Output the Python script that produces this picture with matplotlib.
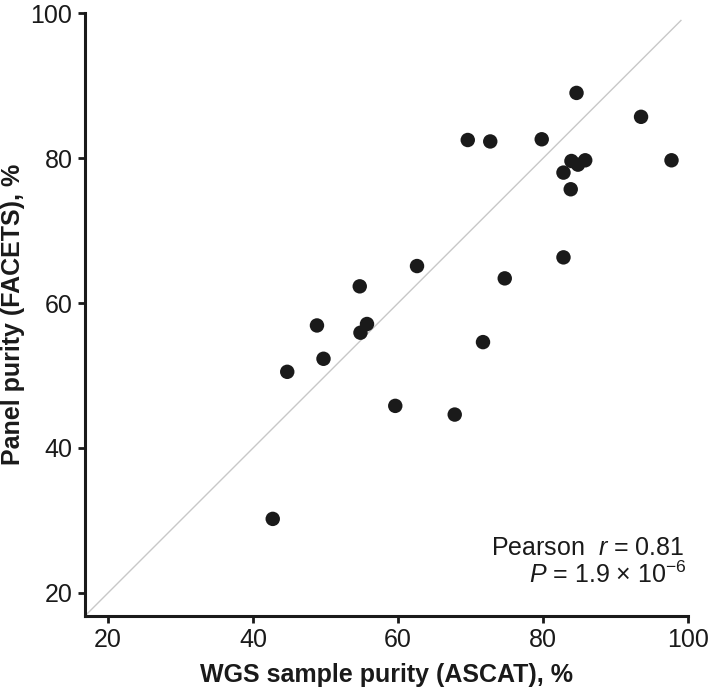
import matplotlib
matplotlib.use('Agg')
import matplotlib.pyplot as plt

plt.rcParams['font.family'] = ['Liberation Sans', 'DejaVu Sans']
plt.rcParams['mathtext.fontset'] = 'custom'
plt.rcParams['mathtext.rm'] = 'Liberation Sans'
plt.rcParams['mathtext.it'] = 'Liberation Sans:italic'

# WGS (ASCAT) purity vs panel (FACETS) purity, %
wgs_purity = [84.6, 93.5, 69.6, 72.7, 79.8, 83.9, 85.8, 84.8, 82.8, 97.7,
              83.8, 82.8, 62.6, 74.7, 54.7, 48.8, 55.7, 54.8, 71.7, 49.7,
              44.7, 59.6, 67.8, 42.7]
panel_purity = [89.0, 85.7, 82.5, 82.3, 82.6, 79.6, 79.7, 79.1, 78.0, 79.7,
                75.7, 66.3, 65.1, 63.4, 62.3, 56.9, 57.1, 55.9, 54.6, 52.3,
                50.5, 45.8, 44.6, 30.2]
ticks = [20, 40, 60, 80, 100]


def main():
    fig = plt.figure(figsize=(7.08, 6.96), dpi=100)
    ax = fig.add_axes([0.120, 0.115, 0.852, 0.866])

    ax.plot([16.8, 99], [16.8, 99], color='#c8c8c8', lw=1.0, zorder=1)
    ax.scatter(wgs_purity, panel_purity, s=108, color='#1a1a1a',
               edgecolors='none', zorder=2)

    ax.set_xlim(16.8, 100)
    ax.set_ylim(16.8, 100)
    ax.set_xticks(ticks)
    ax.set_yticks(ticks)

    for side in ['top', 'right']:
        ax.spines[side].set_visible(False)
    for side in ['left', 'bottom']:
        ax.spines[side].set_linewidth(2.2)
        ax.spines[side].set_color('#1a1a1a')
    ax.tick_params(width=2.0, length=5, labelsize=18, color='#1a1a1a',
                   labelcolor='#1a1a1a', pad=4)

    ax.set_xlabel('WGS sample purity (ASCAT), %', fontsize=18,
                  fontweight='bold', color='#1a1a1a')
    ax.set_ylabel('Panel purity (FACETS), %', fontsize=18,
                  fontweight='bold', color='#1a1a1a')
    ax.xaxis.set_label_coords(0.5, -0.078)
    ax.yaxis.set_label_coords(-0.100, 0.5)

    ax.text(99.5, 25.2, 'Pearson  $r$ = 0.81', ha='right', va='baseline',
            fontsize=18, color='#1a1a1a')
    ax.text(99.8, 21.4, '$P$ = 1.9 × 10$^{\\mathrm{-6}}$', ha='right',
            va='baseline', fontsize=18, color='#1a1a1a')

    fig.savefig('out.png', dpi=100)


if __name__ == '__main__':
    main()
